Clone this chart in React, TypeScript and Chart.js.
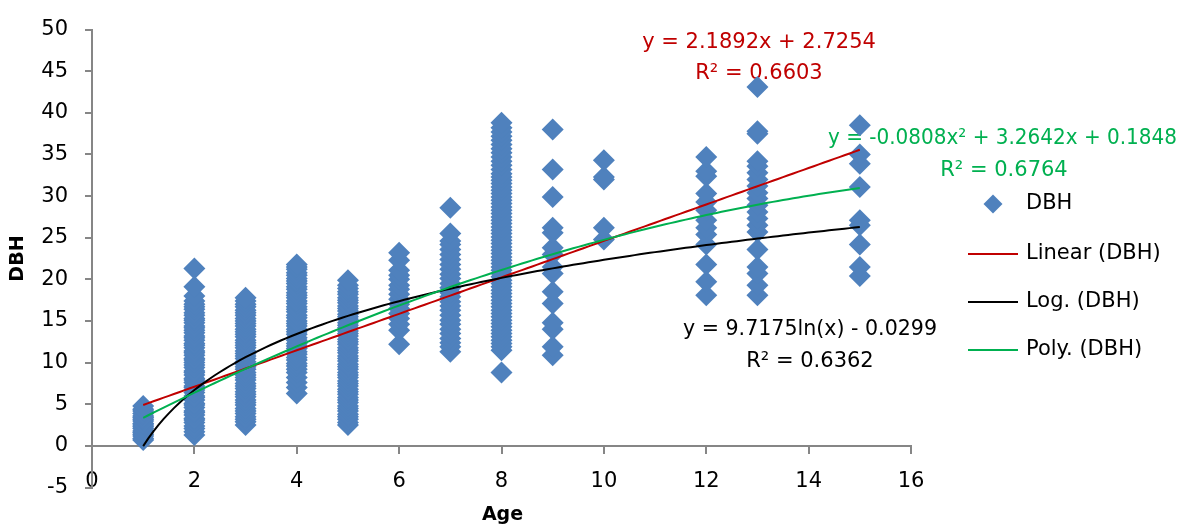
import React, { useEffect, useRef } from "react";
import { Chart, registerables } from "chart.js";

Chart.register(...registerables);

// ---- Data ----
const ages = [1, 2, 3, 4, 5, 6, 7, 8, 9, 10, 12, 13, 15];

const dbhAge1 = [0.7, 0.9, 1.2, 1.4, 1.6, 1.8, 2.1, 2.3, 2.5, 2.7, 3.0, 3.2, 3.4, 3.6, 3.9, 4.2, 4.4, 4.8];
const dbhAge2 = [1.3, 1.7, 2.1, 2.4, 2.8, 3.1, 3.3, 3.7, 4.0, 4.2, 4.6, 4.9, 5.1, 5.5, 5.8, 6.0, 6.4, 6.7, 7.0, 7.2, 7.6, 7.9, 8.1, 8.5, 8.8, 9.0, 9.4, 9.7, 10.0, 10.3, 10.5, 10.9, 11.2, 11.4, 11.8, 12.1, 12.3, 12.7, 13.0, 13.2, 13.6, 13.9, 14.2, 14.4, 14.8, 15.1, 15.3, 15.7, 16.0, 16.4, 16.7, 17.0, 17.4, 18.0, 19.1, 21.3];
const dbhAge3 = [2.5, 2.9, 3.2, 3.5, 3.9, 4.2, 4.5, 4.9, 5.2, 5.5, 5.9, 6.2, 6.5, 6.9, 7.2, 7.5, 7.9, 8.2, 8.5, 8.8, 9.2, 9.5, 9.8, 10.1, 10.5, 10.8, 11.1, 11.4, 11.8, 12.1, 12.4, 12.7, 13.1, 13.4, 13.7, 14.0, 14.4, 14.7, 15.0, 15.3, 15.7, 16.0, 16.3, 16.7, 17.0, 17.4, 17.8];
const dbhAge4 = [6.3, 7.0, 7.6, 8.2, 8.8, 9.2, 9.6, 9.9, 10.3, 10.6, 11.0, 11.3, 11.7, 12.0, 12.3, 12.7, 13.0, 13.4, 13.7, 14.0, 14.4, 14.7, 15.0, 15.4, 15.7, 16.1, 16.4, 16.7, 17.1, 17.4, 17.8, 18.1, 18.4, 18.8, 19.1, 19.5, 19.8, 20.1, 20.5, 20.8, 21.2, 21.5, 21.8];
const dbhAge5 = [2.5, 2.8, 3.2, 3.5, 3.8, 4.2, 4.5, 4.8, 5.2, 5.5, 5.8, 6.2, 6.5, 6.8, 7.2, 7.5, 7.8, 8.2, 8.5, 8.8, 9.2, 9.5, 9.8, 10.2, 10.5, 10.8, 11.2, 11.5, 11.8, 12.2, 12.5, 12.8, 13.2, 13.5, 13.8, 14.2, 14.5, 14.8, 15.2, 15.5, 15.8, 16.2, 16.5, 16.8, 17.2, 17.5, 17.8, 18.2, 18.5, 18.9, 19.3, 19.9];
const dbhAge6 = [12.2, 13.9, 14.6, 15.3, 15.9, 16.5, 17.0, 17.6, 18.2, 18.8, 19.3, 20.0, 20.5, 21.1, 22.3, 23.2];
const dbhAge7 = [11.3, 11.9, 12.4, 12.9, 13.5, 14.0, 14.6, 15.1, 15.7, 16.3, 16.8, 17.3, 17.9, 18.4, 19.0, 19.5, 20.1, 20.6, 21.2, 21.8, 22.4, 23.0, 23.6, 24.2, 24.6, 25.5, 28.6];
const dbhAge8 = [8.8, 11.5, 11.9, 12.3, 12.7, 13.1, 13.5, 13.9, 14.3, 14.7, 15.1, 15.5, 15.9, 16.3, 16.7, 17.1, 17.5, 17.9, 18.3, 18.7, 19.1, 19.5, 19.9, 20.3, 20.7, 21.1, 21.5, 21.9, 22.3, 22.7, 23.1, 23.5, 23.9, 24.3, 24.7, 25.1, 25.5, 25.9, 26.3, 26.7, 27.1, 27.5, 27.9, 28.3, 28.7, 29.1, 29.5, 29.9, 30.3, 30.7, 31.1, 31.5, 31.9, 32.3, 32.7, 33.2, 33.7, 34.2, 34.7, 35.2, 35.7, 36.2, 36.7, 37.2, 37.7, 38.2, 38.8];
const dbhAge9 = [10.9, 11.9, 14.0, 14.8, 17.1, 18.5, 20.7, 21.5, 23.0, 23.8, 25.6, 26.2, 29.9, 33.2, 38.0];
const dbhAge10 = [24.8, 26.2, 32.0, 32.3, 34.3];
const dbhAge12 = [18.1, 19.7, 21.8, 24.2, 25.4, 26.2, 27.1, 28.3, 29.3, 30.3, 32.4, 33.0, 34.7];
const dbhAge13 = [18.1, 19.3, 20.7, 21.5, 23.6, 25.7, 26.5, 27.3, 28.1, 28.9, 29.7, 30.4, 31.2, 32.0, 32.8, 33.6, 34.2, 37.5, 37.8, 43.1];
const dbhAge15 = [20.4, 21.5, 24.2, 26.5, 27.1, 31.1, 33.9, 35.0, 38.5];

const dbhByAge = [dbhAge1, dbhAge2, dbhAge3, dbhAge4, dbhAge5, dbhAge6, dbhAge7, dbhAge8, dbhAge9, dbhAge10, dbhAge12, dbhAge13, dbhAge15];

// Trendline coefficients shown on the chart
const linearCoef = [2.1892, 2.7254];
const logCoef = [9.7175, -0.0299];
const polyCoef = [-0.0808, 3.2642, 0.1848];
const trendRange = [1, 15];

const xTicks = [0, 2, 4, 6, 8, 10, 12, 14, 16];
const yTicks = [-5, 0, 5, 10, 15, 20, 25, 30, 35, 40, 45, 50];

const legendLabels = ["DBH", "Linear (DBH)", "Log. (DBH)", "Poly. (DBH)"];
const linearEq = ["y = 2.1892x + 2.7254", "R² = 0.6603"];
const polyEq = ["y = -0.0808x² + 3.2642x + 0.1848", "R² = 0.6764"];
const logEq = ["y = 9.7175ln(x) - 0.0299", "R² = 0.6362"];

const MARKER = "#4F81BD";
const RED = "#C00000";
const GREEN = "#00B050";
const BLACK = "#000000";
const AXIS = "#868686";
const FONT = '"DejaVu Sans"';

function trendPoints(f: (x: number) => number) {
  const pts: { x: number; y: number }[] = [];
  const n = 140;
  for (let i = 0; i <= n; i++) {
    const x = trendRange[0] + ((trendRange[1] - trendRange[0]) * i) / n;
    pts.push({ x, y: f(x) });
  }
  return pts;
}

const overlayPlugin = {
  id: "overlayTexts",
  beforeDatasetsDraw(chart: any) {
    const ctx = chart.ctx as CanvasRenderingContext2D;
    ctx.save();
    ctx.font = `21px ${FONT}`;
    ctx.textAlign = "center";
    ctx.textBaseline = "middle";
    ctx.fillStyle = RED;
    ctx.fillText(linearEq[0], 759, 43);
    ctx.fillText(linearEq[1], 759, 74);
    ctx.fillStyle = GREEN;
    ctx.textAlign = "right";
    ctx.fillText(polyEq[0], 1177, 139, 349);
    ctx.textAlign = "center";
    ctx.fillText(polyEq[1], 1004, 171);
    ctx.fillStyle = BLACK;
    ctx.fillText(logEq[0], 810, 330, 254);
    ctx.fillText(logEq[1], 810, 362);
    ctx.restore();
  },
  afterDraw(chart: any) {
    const ctx = chart.ctx as CanvasRenderingContext2D;
    ctx.save();
    ctx.fillStyle = "#000";
    ctx.font = `bold 19px ${FONT}`;
    ctx.textAlign = "center";
    ctx.textBaseline = "middle";
    const ca = chart.chartArea;
    ctx.fillText("Age", (ca.left + ca.right) / 2 + 1, 515);
    ctx.save();
    ctx.translate(18, (ca.top + ca.bottom) / 2);
    ctx.rotate(-Math.PI / 2);
    ctx.fillText("DBH", 0, 0);
    ctx.restore();

    // legend
    const lx = 968, lw = 50, tx = 1026;
    const ys = [204, 254, 302, 350];
    ctx.fillStyle = MARKER;
    const cx = lx + lw / 2, cy = ys[0], r = 9.5;
    ctx.beginPath();
    ctx.moveTo(cx, cy - r);
    ctx.lineTo(cx + r, cy);
    ctx.lineTo(cx, cy + r);
    ctx.lineTo(cx - r, cy);
    ctx.closePath();
    ctx.fill();
    const colors = [RED, BLACK, GREEN];
    ctx.lineWidth = 2;
    for (let i = 0; i < 3; i++) {
      ctx.strokeStyle = colors[i];
      ctx.beginPath();
      ctx.moveTo(lx, ys[i + 1]);
      ctx.lineTo(lx + lw, ys[i + 1]);
      ctx.stroke();
    }
    ctx.fillStyle = "#000";
    ctx.font = `21px ${FONT}`;
    ctx.textAlign = "left";
    for (let i = 0; i < 4; i++) ctx.fillText(legendLabels[i], tx, ys[i]);
    ctx.restore();
  },
};

export default function App() {
  const ref = useRef<HTMLCanvasElement | null>(null);
  useEffect(() => {
    document.body.style.margin = "0";
    const canvas = ref.current!;
    const points: { x: number; y: number }[] = [];
    ages.forEach((a, i) => dbhByAge[i].forEach((v) => points.push({ x: a, y: v })));

    const chart = new Chart(canvas, {
      type: "scatter",
      data: {
        datasets: [
          {
            label: "Poly. (DBH)",
            data: trendPoints((x) => polyCoef[0] * x * x + polyCoef[1] * x + polyCoef[2]),
            showLine: true,
            borderColor: GREEN,
            borderWidth: 2,
            pointRadius: 0,
            order: 1,
          },
          {
            label: "Log. (DBH)",
            data: trendPoints((x) => logCoef[0] * Math.log(x) + logCoef[1]),
            showLine: true,
            borderColor: BLACK,
            borderWidth: 2,
            pointRadius: 0,
            order: 2,
          },
          {
            label: "Linear (DBH)",
            data: trendPoints((x) => linearCoef[0] * x + linearCoef[1]),
            showLine: true,
            borderColor: RED,
            borderWidth: 2,
            pointRadius: 0,
            order: 3,
          },
          {
            label: "DBH",
            data: points,
            pointStyle: "rectRot",
            pointRadius: 11,
            backgroundColor: MARKER,
            borderWidth: 0,
            order: 10,
          },
        ],
      },
      options: {
        animation: false,
        responsive: false,
        devicePixelRatio: 1,
        layout: { padding: { left: 0, top: 21, right: 269, bottom: 41.5 } },
        plugins: { legend: { display: false }, tooltip: { enabled: false } },
        elements: { line: { tension: 0 } },
        scales: {
          x: {
            type: "linear",
            min: 0,
            max: 16,
            position: { y: 0 } as any,
            afterBuildTicks: (s: any) => { s.ticks = xTicks.map((v) => ({ value: v })); },
            grid: { display: true, drawOnChartArea: false, drawTicks: true, tickLength: 7, color: AXIS, lineWidth: 2 },
            border: { display: true, color: AXIS, width: 2 },
            ticks: { color: "#000", font: { family: FONT, size: 21 }, padding: 16, maxRotation: 0 },
          },
          y: {
            type: "linear",
            min: -5,
            max: 50,
            afterBuildTicks: (s: any) => { s.ticks = yTicks.map((v) => ({ value: v })); },
            afterFit: (s: any) => { s.width = 92; },
            grid: { display: true, drawOnChartArea: false, drawTicks: true, tickLength: 7, color: AXIS, lineWidth: 2 },
            border: { display: true, color: AXIS, width: 2 },
            ticks: { color: "#000", font: { family: FONT, size: 21 }, padding: 17 },
          },
        },
      },
      plugins: [overlayPlugin],
    });
    return () => chart.destroy();
  }, []);

  return (
    <div style={{ width: 1180, height: 529 }}>
      <canvas ref={ref} width={1180} height={529} style={{ display: "block" }} />
    </div>
  );
}
